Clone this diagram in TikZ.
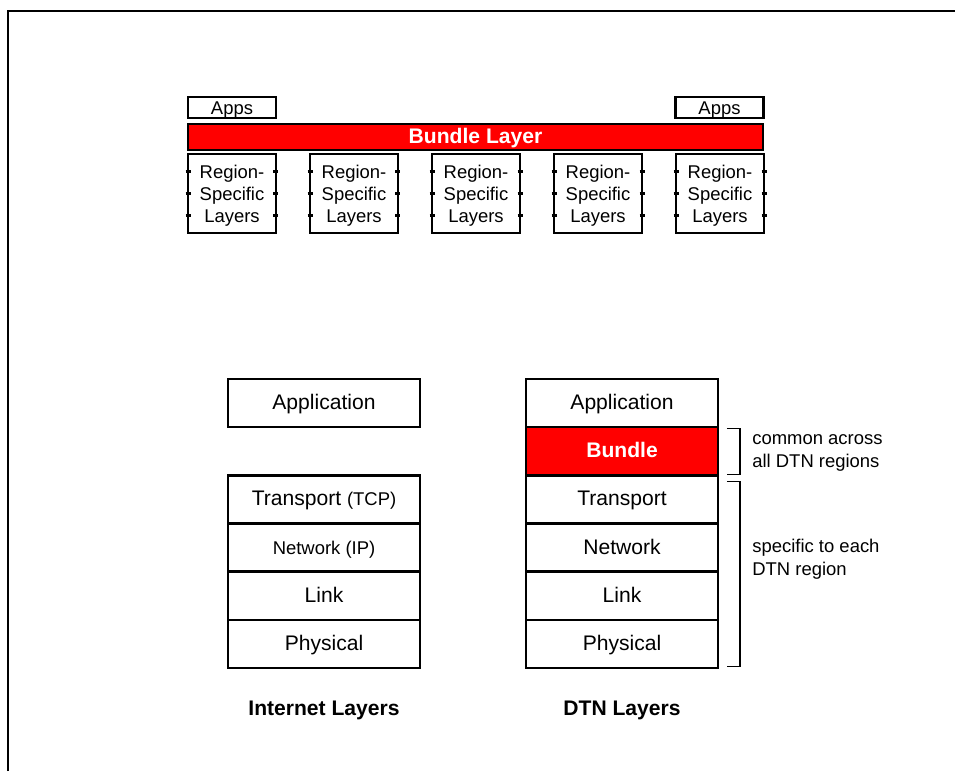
\documentclass[tikz,border=0pt]{standalone}
\usepackage{fontspec}
\setmainfont{Liberation Sans}
\definecolor{bundlered}{RGB}{255,0,0}
\newcommand\smalltxt{\fontsize{10.5}{12}\selectfont}
\tikzset{
	box/.style={draw, line width=1.4pt, inner sep=0pt, outer sep=0pt, align=center},
	layer/.style={box, minimum width=3.84cm, minimum height=0.963cm, text height=0.9em, text depth=0.16em, font=\fontsize{12}{14}\selectfont},
	region/.style={box, minimum width=1.76cm, minimum height=1.58cm, text height=35.1pt, text depth=2pt, font=\fontsize{10.5}{12.5}\selectfont},
	appsbox/.style={box, minimum width=1.76cm, minimum height=0.42cm, text height=1.0em, text depth=0.15em, font=\fontsize{10.5}{12}\selectfont},
	sidetick/.style={line width=1.4pt},
	bracket/.style={line width=0.6pt},
	note/.style={anchor=west, align=left, inner sep=0pt, font=\fontsize{10.5}{13}\selectfont},
	caption/.style={font=\bfseries\fontsize{12}{14}\selectfont}
}
\begin{document}
\begin{tikzpicture}[x=0.02cm, y=-0.02cm]
				\useasboundingbox (0,0) rectangle (955,771);
				\draw[line width=1.1pt] (8,771) -- (8,11) -- (955,11);
				\def\regionstep{122}
				\def\rowh{48.17}
				
				\node[appsbox] (appsl) at (232,107.5) {Apps};
				\node[appsbox] (appsr) at (719.5,107.5) {Apps};
				\node[box, fill=bundlered, text=white, minimum width=11.5cm, minimum height=0.52cm, text height=0.9em, text depth=0.12em, font=\bfseries\fontsize{12}{14}\selectfont] (bundlebar) at (475.5,137) {Bundle Layer};
				
				\foreach \i in {0,...,4} {
					\node[region] (reg\i) at (232+\i*\regionstep,193.5) {Region-\\Specific\\Layers};
					\foreach \dy in {-22,0,22} {
						\draw[sidetick] (reg\i.west) ++(-2.5,\dy) -- ++(5,0);
						\draw[sidetick] (reg\i.east) ++(-2.5,\dy) -- ++(5,0);
					}
				}
				
				\node[layer] (iapp) at (324,{379+\rowh*0.5}) {Application};
				\foreach \name/\txt/\row in {itrans/Transport {\smalltxt(TCP)}/3, inet/{\smalltxt Network (IP)}/4, ilink/Link/5, iphys/Physical/6}
					\node[layer] (\name) at (324,{379+\rowh*(\row-0.5)}) {\txt};
				
				\foreach \name/\txt/\row in {dapp/Application/1, dtrans/Transport/3, dnet/Network/4, dlink/Link/5, dphys/Physical/6}
					\node[layer] (\name) at (622,{379+\rowh*(\row-0.5)}) {\txt};
				\node[layer, fill=bundlered, text=white, font=\bfseries\fontsize{12}{14}\selectfont] (dbundle) at (622,{379+\rowh*1.5}) {Bundle};
				
				\draw[bracket] (dbundle.north east) ++(9,1) -- ++(13,0) -- ++(0,46) -- ++(-13,0);
				\draw[bracket] (dtrans.north east) ++(9,6) -- ++(13,0) -- ++(0,185) -- ++(-13,0);
				\node[note] (common) at (752,453) {common across\\all DTN regions};
				\node[note] (specific) at (752,559.5) {specific to each\\DTN region};
				
				\node[caption] (icap) at (324,710) {Internet Layers};
				\node[caption] (dcap) at (622,710) {DTN Layers};
\end{tikzpicture}
\end{document}
